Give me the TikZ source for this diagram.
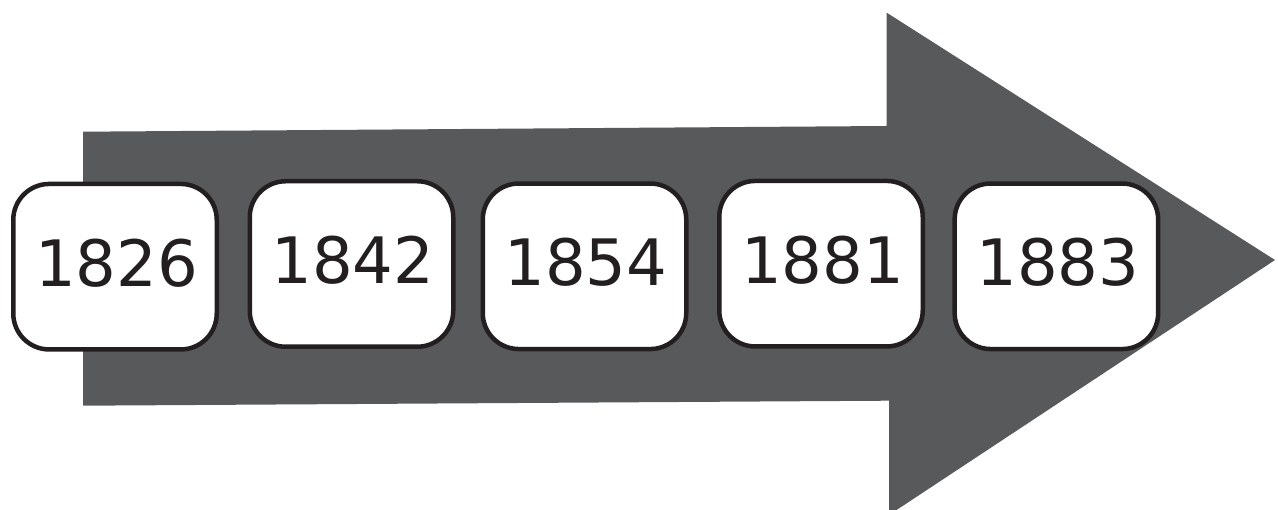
\documentclass[tikz,border=0pt]{standalone}
\usepackage{fontspec}
\setmainfont{DejaVu Sans}
\definecolor{arrowgray}{HTML}{58595B}
\definecolor{ink}{HTML}{231F20}
\tikzset{
  yearbox/.style={draw=ink, line width=4.5pt, fill=white, rounded corners=36pt,
    minimum width=203.5pt, minimum height=165.5pt, inner sep=0pt, text=ink,
    text height=46.7pt, text depth=8pt,
    font=\fontsize{64}{64}\selectfont},
}
\newcommand{\yr}[1]{\hspace{3pt}#1}
\begin{document}
\begin{tikzpicture}[x=1pt,y=-1pt]
\useasboundingbox (0,0) rectangle (1278,510);
\begin{scope}
\clip (0,0) rectangle (1278,510);
\fill[arrowgray] (83,131.7) -- (886.7,126) -- (886.7,12.7) -- (1275,260) -- (889,515) -- (889,400.7) -- (83,405.7) -- cycle;
\end{scope}
\node[yearbox] (b1) at (115,266.7) {\yr{1826}};
\node[yearbox] (b2) at (351.5,264) {\yr{1842}};
\node[yearbox] (b3) at (584.5,266.3) {\yr{1854}};
\node[yearbox] (b4) at (821,263.7) {\yr{1881}};
\node[yearbox] (b5) at (1056.4,266.3) {\yr{1883}};
\end{tikzpicture}
\end{document}
